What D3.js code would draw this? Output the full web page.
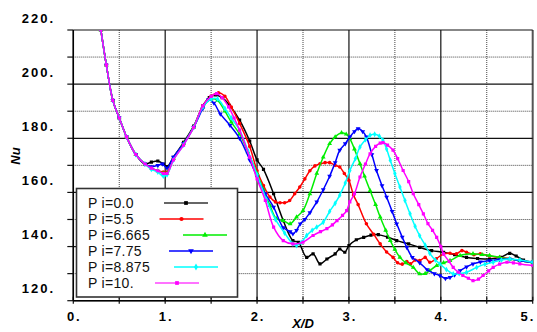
<!DOCTYPE html>
<html><head><meta charset="utf-8">
<script src="https://cdn.jsdelivr.net/npm/d3@7"></script>
<style>body{margin:0;background:#fff}svg{display:block}</style>
</head><body>
<svg id="c" width="537" height="332"></svg>
<script>
// ---------- data ----------
const xTicks = [0, 1, 2, 3, 4, 5];
const xTickLabels = ["0.", "1.", "2.", "3.", "4.", "5."];
const yTicks = [120, 140, 160, 180, 200, 220];
const yTickLabels = ["120.", "140.", "160.", "180.", "200.", "220."];
const seriesNames = ["P i=0.0", "P i=5.5", "P i=6.665", "P i=7.75", "P i=8.875", "P i=10."];

// shared near-field part (all curves coincide)
const nearField = [[0.30,220],[0.36,207],[0.43,194],[0.50,187.5],[0.58,180.5],[0.68,174],[0.78,170.5]];

const pi00 = nearField.concat([[0.85,171.2],[0.92,171.6],[0.98,170.5],[1.02,169.5],[1.09,173],[1.2,178.5],[1.31,184.5],[1.41,192],[1.48,195],[1.55,196],[1.62,195],[1.7,192.2],[1.81,186.7],[1.92,179],[2.0,172],[2.07,168.5],[2.18,159.5],[2.285,149.6],[2.39,142.2],[2.45,141.6],[2.54,136],[2.61,137.3],[2.685,133.6],[2.76,135.4],[2.85,137.3],[2.9,139.1],[2.955,137.9],[3.0,140.4],[3.08,142.5],[3.16,143.4],[3.24,144.2],[3.32,144.4],[3.42,143.5],[3.52,142.2],[3.65,141],[3.77,139.7],[3.9,138.5],[4.03,137.9],[4.15,137],[4.28,136],[4.4,135.6],[4.53,135.4],[4.65,136],[4.75,137.5],[4.82,136.5],[4.9,135],[5.0,134.2]]);

const pi55 = nearField.concat([[0.85,169],[0.92,168],[0.98,167.5],[1.02,167.5],[1.09,172.5],[1.2,178],[1.31,184],[1.41,192],[1.5,195.5],[1.58,196.8],[1.65,195.5],[1.72,191.5],[1.81,185.5],[1.92,177],[2.0,168],[2.07,162.5],[2.14,158.3],[2.2,156.5],[2.25,156.2],[2.3,156.2],[2.355,157],[2.41,159.5],[2.465,162],[2.52,165],[2.575,168],[2.63,169.8],[2.685,170.6],[2.74,171],[2.79,171],[2.85,170],[2.9,169.4],[2.95,167],[3.0,164.4],[3.05,159],[3.1,155.5],[3.19,148.4],[3.27,144.5],[3.34,141],[3.41,138],[3.48,136],[3.53,134],[3.58,133.5],[3.63,134.5],[3.67,133.6],[3.72,135],[3.77,134.8],[3.83,136],[3.88,134.2],[3.95,135.5],[4.03,137.3],[4.1,137.5],[4.17,137.3],[4.23,138.5],[4.28,137.9],[4.36,137],[4.43,137.3],[4.53,136.5],[4.64,136],[4.75,135.5],[4.86,134.8],[5.0,134.2]]);

const pi6665 = nearField.concat([[0.85,169],[0.92,168],[0.98,167],[1.02,167],[1.09,172.5],[1.2,178],[1.31,184],[1.41,191.5],[1.5,194.5],[1.57,194],[1.65,190],[1.72,186],[1.81,181.5],[1.9,175],[2.0,167],[2.07,161],[2.14,155.2],[2.21,150.3],[2.285,149.6],[2.36,148.4],[2.43,150.9],[2.5,153.3],[2.575,159.5],[2.65,167],[2.72,173],[2.79,178],[2.85,180.5],[2.92,182],[2.97,181.5],[3.01,179.9],[3.06,176],[3.12,170.6],[3.17,166],[3.23,160.7],[3.29,155.5],[3.34,150.9],[3.4,146],[3.45,142.2],[3.5,139],[3.555,136],[3.62,134],[3.7,132.3],[3.77,129.9],[3.83,130],[3.88,131.1],[3.955,133],[4.03,134],[4.1,134.8],[4.21,136.7],[4.35,137.3],[4.45,137],[4.53,136.7],[4.64,136],[4.75,135.4],[4.86,134.8],[5.0,134.2]]);

const pi775 = nearField.concat([[0.85,169.5],[0.92,170],[0.97,170.5],[1.02,169],[1.09,173],[1.2,178],[1.31,184],[1.41,191],[1.47,194.3],[1.53,193],[1.6,189],[1.705,184.8],[1.81,180],[1.92,172],[2.0,165.7],[2.09,159.5],[2.18,154.6],[2.285,147],[2.36,145.5],[2.39,144.7],[2.43,146],[2.47,148.4],[2.52,150],[2.575,152.5],[2.65,156.5],[2.72,161],[2.79,166],[2.85,171],[2.9,175.6],[2.96,178],[3.01,180.5],[3.06,182.5],[3.1,183.6],[3.15,182.5],[3.19,180.5],[3.25,174],[3.3,168.1],[3.36,162.5],[3.41,158.3],[3.47,153],[3.52,148.4],[3.58,143.5],[3.63,139.7],[3.69,136],[3.77,134],[3.85,131.5],[3.93,130],[3.99,129.3],[4.05,128.2],[4.1,128.6],[4.15,129.5],[4.21,131.1],[4.28,132.5],[4.35,133.6],[4.43,134.3],[4.53,134.8],[4.64,135.2],[4.75,135.4],[4.86,134.8],[5.0,134.2]]);

const pi8875 = nearField.concat([[0.85,168.5],[0.92,167.5],[0.98,166],[1.02,166.5],[1.09,172],[1.2,177.5],[1.31,184],[1.41,191.5],[1.5,194.5],[1.57,194.5],[1.65,191],[1.72,187.5],[1.81,183],[1.9,175.5],[2.0,166.5],[2.1,157.5],[2.2,150],[2.3,145],[2.39,141],[2.43,140.4],[2.48,141.5],[2.54,144.1],[2.6,146],[2.65,147.2],[2.72,149],[2.79,153],[2.85,156],[2.9,159],[2.96,163.5],[3.01,168.1],[3.07,172.5],[3.12,176.8],[3.18,179.5],[3.23,181.1],[3.28,181.5],[3.33,180.8],[3.37,179.3],[3.41,176],[3.45,171.9],[3.5,167],[3.555,162],[3.61,157],[3.665,152.1],[3.72,147.5],[3.77,144],[3.83,140.5],[3.88,137.5],[3.94,135],[3.99,133.6],[4.06,131.5],[4.135,129.9],[4.2,130],[4.28,130.5],[4.39,132.3],[4.48,133.5],[4.57,134.2],[4.66,135],[4.75,135.4],[4.86,135],[5.0,134.2]]);

const pi10 = nearField.concat([[0.85,169],[0.92,168],[0.98,167],[1.02,167],[1.09,172],[1.2,177.5],[1.31,184],[1.41,192],[1.5,195.5],[1.56,196.5],[1.62,195],[1.69,191.6],[1.75,187.5],[1.81,183],[1.92,173],[2.0,165],[2.09,157],[2.18,147.2],[2.285,142.2],[2.39,141],[2.5,141.6],[2.61,144.1],[2.69,145.5],[2.76,146.6],[2.82,148],[2.87,149.6],[2.93,151.5],[2.975,153.3],[3.01,156.5],[3.06,159.5],[3.12,165.7],[3.18,170.5],[3.23,174.3],[3.29,177],[3.34,178.2],[3.37,178.4],[3.42,177.5],[3.48,175.6],[3.53,172.5],[3.59,168.1],[3.65,164],[3.7,159.5],[3.76,155.5],[3.81,152.1],[3.86,148.5],[3.91,146],[3.955,143.4],[4.0,140],[4.03,137.3],[4.09,134.5],[4.135,132.3],[4.19,130.5],[4.24,129.3],[4.3,128.3],[4.35,127.4],[4.41,128],[4.46,129.3],[4.52,131],[4.57,132.3],[4.64,133.5],[4.72,134.2],[4.79,134],[4.86,133.6],[5.0,133]]);

const seriesValues = [pi00, pi55, pi6665, pi775, pi8875, pi10];

// ---------- style / layout ----------
const colors = ["#000000", "#ff0000", "#00ee00", "#0000ff", "#00ffff", "#ff00ff"];
const symbols = [d3.symbolSquare, d3.symbolCircle, d3.symbolTriangle, d3.symbolTriangle, d3.symbolDiamond, d3.symbolSquare];
const symRot = [0, 0, 0, 180, 0, 0];
const legendMarkerX = [186, 181.5, 205, 191, 196, 177];

const svg = d3.select("#c");
const L = 73.3, R = 532.7, T = 30, B = 300.7;
const x = d3.scaleLinear().domain([0, 5]).range([L, R]);
const y = d3.scaleLinear().domain([120, 220]).range([B, T]);

// minor grid
const g = svg.append("g");
g.selectAll(".mx").data(d3.range(0.5, 5, 1)).join("line")
  .attr("x1", d => x(d)).attr("x2", d => x(d)).attr("y1", T).attr("y2", B)
  .attr("stroke", "#444").attr("stroke-width", 1).attr("stroke-dasharray", "1,1");
g.selectAll(".my").data(d3.range(130, 220, 20)).join("line")
  .attr("y1", d => y(d)).attr("y2", d => y(d)).attr("x1", L).attr("x2", R)
  .attr("stroke", "#444").attr("stroke-width", 1).attr("stroke-dasharray", "1,1");
// major grid
g.selectAll(".Mx").data(xTicks).join("line")
  .attr("x1", d => x(d)).attr("x2", d => x(d)).attr("y1", T).attr("y2", B)
  .attr("stroke", d => d === 5 ? "#555" : "#111").attr("stroke-width", d => d === 5 ? 2 : 1.2);
g.selectAll(".My").data(yTicks).join("line")
  .attr("y1", d => y(d)).attr("y2", d => y(d)).attr("x1", L).attr("x2", R)
  .attr("stroke", "#111").attr("stroke-width", 1.2);

// axis ticks
svg.append("g").selectAll("line").data(d3.range(120, 221, 10)).join("line")
  .attr("x1", L - 6).attr("x2", L).attr("y1", d => y(d)).attr("y2", d => y(d))
  .attr("stroke", "#111").attr("stroke-width", 1.2);
svg.append("g").selectAll("line").data(d3.range(0, 5.01, 0.5)).join("line")
  .attr("x1", d => x(d)).attr("x2", d => x(d)).attr("y1", B - 4).attr("y2", B + 3)
  .attr("stroke", "#111").attr("stroke-width", 1.2);
// left and bottom frame
svg.append("line").attr("x1", L).attr("x2", L).attr("y1", T).attr("y2", B).attr("stroke", "#000").attr("stroke-width", 1.5);
svg.append("line").attr("x1", L).attr("x2", R).attr("y1", B).attr("y2", B).attr("stroke", "#000").attr("stroke-width", 1.5);

// tick labels
const tickFont = "Arial, 'Liberation Sans', sans-serif";
svg.append("g").selectAll("text").data(yTicks).join("text")
  .attr("x", 55).attr("y", d => y(d) - 7.5)
  .attr("text-anchor", "end").attr("font-family", tickFont).attr("font-weight", "bold")
  .attr("font-size", 13).attr("letter-spacing", "2px")
  .text((d, i) => yTickLabels[i]);
svg.append("g").selectAll("text").data(xTicks).join("text")
  .attr("x", d => Math.min(x(d) + 1, 528)).attr("y", 321)
  .attr("text-anchor", "middle").attr("font-family", tickFont).attr("font-weight", "bold")
  .attr("font-size", 13).attr("letter-spacing", "2px")
  .text((d, i) => xTickLabels[i]);

// axis titles
svg.append("text").attr("x", 303).attr("y", 328).attr("text-anchor", "middle")
  .attr("font-family", tickFont).attr("font-weight", "bold").attr("font-style", "italic")
  .attr("font-size", 13).text("X/D");
svg.append("text").attr("transform", "translate(20,156) rotate(-90)").attr("text-anchor", "middle")
  .attr("font-family", tickFont).attr("font-weight", "bold").attr("font-style", "italic")
  .attr("font-size", 13).text("Nu");

// curves
svg.append("clipPath").attr("id", "clip").append("rect")
  .attr("x", L).attr("y", T).attr("width", R - L).attr("height", B - T);
const plot = svg.append("g").attr("clip-path", "url(#clip)");
const line = d3.line().x(d => x(d[0])).y(d => y(d[1])).curve(d3.curveCatmullRom.alpha(0.5));
seriesValues.forEach((vals, i) => {
  const s = plot.append("g");
  s.append("path").attr("d", line(vals)).attr("fill", "none")
    .attr("stroke", colors[i]).attr("stroke-width", 1.5);
  s.selectAll("path.m").data(vals).join("path").attr("class", "m")
    .attr("d", d3.symbol().type(symbols[i]).size(10))
    .attr("transform", d => `translate(${x(d[0])},${y(d[1])}) rotate(${symRot[i]})`)
    .attr("fill", colors[i]);
});

// legend
const lg = svg.append("g");
lg.append("rect").attr("x", 76.5).attr("y", 188.5).attr("width", 161).attr("height", 108.5)
  .attr("fill", "#fff").attr("stroke", "#333").attr("stroke-width", 1.6);
seriesNames.forEach((name, i) => {
  const cy = 203 + i * 16;
  lg.append("text").attr("x", 88).attr("y", cy + 5.2)
    .attr("font-family", tickFont).attr("font-size", 14).attr("letter-spacing", "0.3px")
    .attr("fill", "#111").text(name);
  const mx = legendMarkerX[i];
  lg.append("line").attr("x1", mx - 22).attr("x2", mx + 22).attr("y1", cy).attr("y2", cy)
    .attr("stroke", colors[i]).attr("stroke-width", i === 0 || i === 5 ? 2 : 1.3)
    .attr("stroke-opacity", i === 0 ? 0.6 : (i === 5 ? 0.55 : 1));
  lg.append("path").attr("d", d3.symbol().type(symbols[i]).size(14))
    .attr("transform", `translate(${mx},${cy}) rotate(${symRot[i]})`).attr("fill", colors[i]);
});
</script>
</body></html>
